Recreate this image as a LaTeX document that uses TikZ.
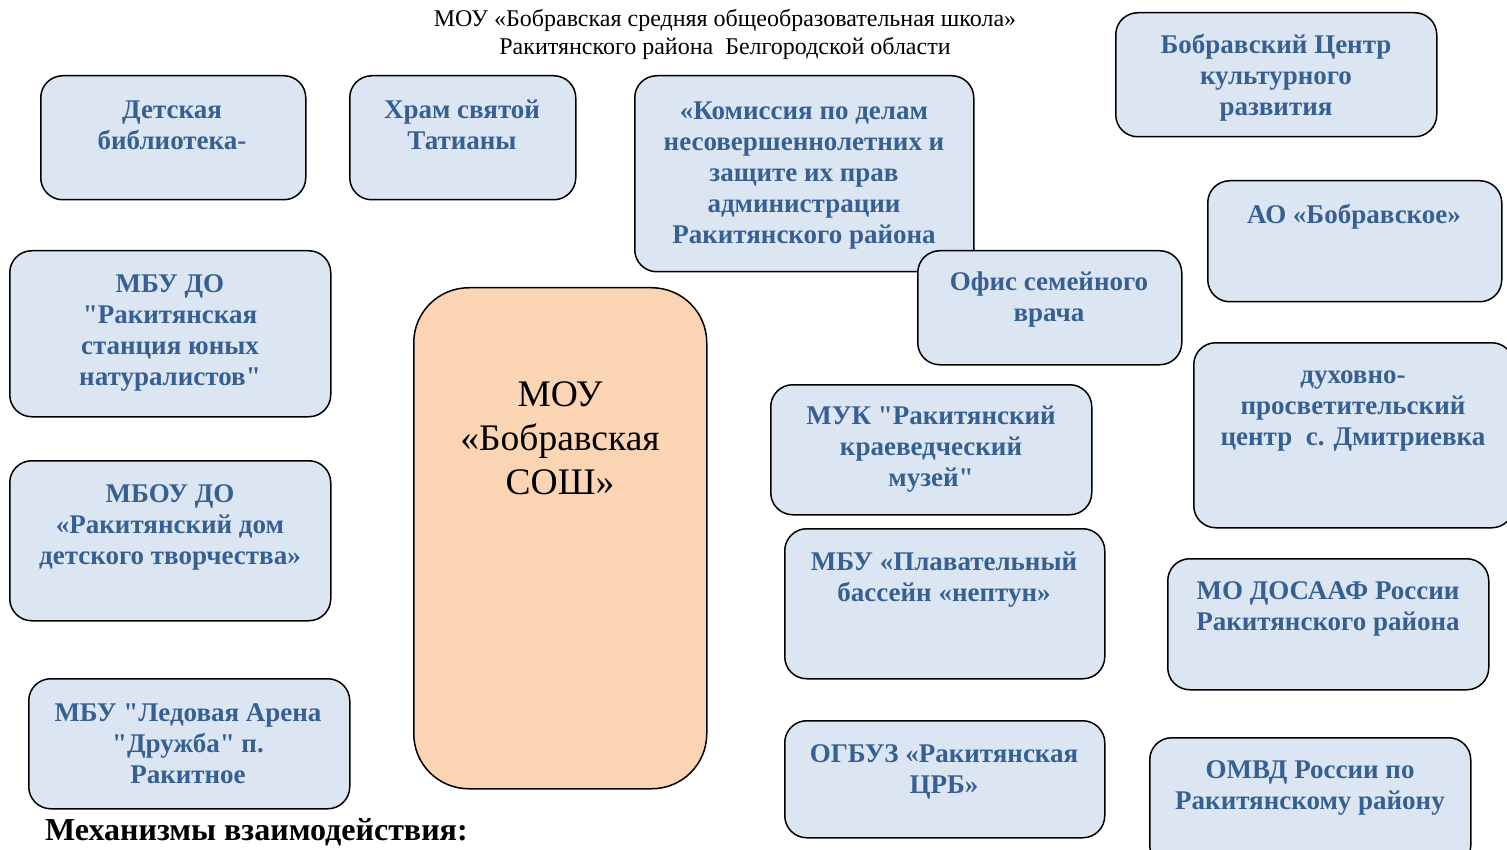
\documentclass[tikz,border=0pt]{standalone}
\usepackage{fontspec}
\setmainfont{Liberation Serif}[Ligatures=TeXOff]
\definecolor{orgfill}{RGB}{220,230,242}
\definecolor{orgtext}{RGB}{55,96,146}
\definecolor{schoolfill}{RGB}{251,212,180}
\begin{document}
\begin{tikzpicture}
[
    x=1pt, y=-1pt,
    org/.style={draw=black, line width=1.5pt, fill=orgfill, rounded corners=22pt, anchor=north west, inner sep=0pt},
    orgtxt/.style={text=orgtext, align=center, inner sep=0pt, font=\fontsize{27}{31}\selectfont\bfseries},
    school/.style={draw=black, line width=1.5pt, fill=schoolfill, rounded corners=55pt, anchor=north west, inner sep=0pt},
]
\useasboundingbox (0,0) rectangle (1507,850);
\node[align=center, font=\fontsize{24}{28}\selectfont] (title) at (725,34)
    {МОУ «Бобравская средняя общеобразовательная школа»\\Ракитянского района\ \ Белгородской области};
\node[org, minimum width=265pt, minimum height=124pt] (lib) at (40,75) {};
\node[orgtxt] (libtxt) at (172,125) {Детская\\библиотека-};
\node[org, minimum width=226pt, minimum height=124pt] (hram) at (349,75) {};
\node[orgtxt] (hramtxt) at (462,125) {Храм святой\\Татианы};
\node[org, minimum width=339pt, minimum height=196pt] (kdn) at (634,75) {};
\node[orgtxt] (kdntxt) at (804,176) {«Комиссия по делам\\несовершеннолетних и\\защите их прав\\администрации\\Ракитянского района};
\node[org, minimum width=321pt, minimum height=124pt] (bck) at (1115,12) {};
\node[orgtxt] (bcktxt) at (1276,78) {Бобравский Центр\\культурного\\развития};
\node[org, minimum width=294pt, minimum height=121pt] (ao) at (1207,180) {};
\node[orgtxt] (aotxt) at (1354,217) {АО «Бобравское»};
\node[org, minimum width=264pt, minimum height=114pt] (ofis) at (917,250) {};
\node[orgtxt] (ofistxt) at (1049,300) {Офис семейного\\врача};
\node[org, minimum width=321pt, minimum height=166pt] (sun) at (9,250) {};
\node[orgtxt] (suntxt) at (170,333) {МБУ ДО\\"Ракитянская\\станция юных\\натуралистов"};
\node[school, minimum width=293pt, minimum height=501pt] (moy) at (413,287) {};
\node[align=center, inner sep=0pt, font=\fontsize{37.5}{44}\selectfont] (moytxt) at (560,438) {МОУ\\«Бобравская\\СОШ»};
\node[org, minimum width=321pt, minimum height=130pt] (muk) at (770,384) {};
\node[orgtxt] (muktxt) at (931,449.5) {МУК "Ракитянский\\краеведческий\\музей"};
\node[org, minimum width=320pt, minimum height=185pt] (dpc) at (1193,342) {};
\node[orgtxt] (dpctxt) at (1353,411.5) {духовно-\\просветительский\\центр\ \ с. Дмитриевка};
\node[org, minimum width=321pt, minimum height=160pt] (ddt) at (9,460) {};
\node[orgtxt] (ddttxt) at (170,527.5) {МБОУ ДО\\«Ракитянский дом\\детского творчества»};
\node[org, minimum width=320pt, minimum height=150pt] (bass) at (784,528) {};
\node[orgtxt] (basstxt) at (944,580) {МБУ «Плавательный\\бассейн «нептун»};
\node[org, minimum width=321pt, minimum height=131pt] (dosaaf) at (1167,558) {};
\node[orgtxt] (dosaaftxt) at (1328,609) {МО ДОСААФ России\\Ракитянского района};
\node[org, minimum width=321pt, minimum height=130pt] (arena) at (28,678) {};
\node[orgtxt] (arenatxt) at (188,744) {МБУ "Ледовая Арена\\"Дружба" п.\\Ракитное};
\node[org, minimum width=320pt, minimum height=117pt] (crb) at (784,720) {};
\node[orgtxt] (crbtxt) at (944,772) {ОГБУЗ «Ракитянская\\ЦРБ»};
\node[org, minimum width=321pt, minimum height=130pt] (omvd) at (1149,737) {};
\node[orgtxt] (omvdtxt) at (1310,788) {ОМВД России по\\Ракитянскому району};
\node[anchor=west, inner sep=0pt, font=\fontsize{32}{36}\selectfont\bfseries] (mech) at (45,832) {Механизмы взаимодействия:};
\end{tikzpicture}
\end{document}
